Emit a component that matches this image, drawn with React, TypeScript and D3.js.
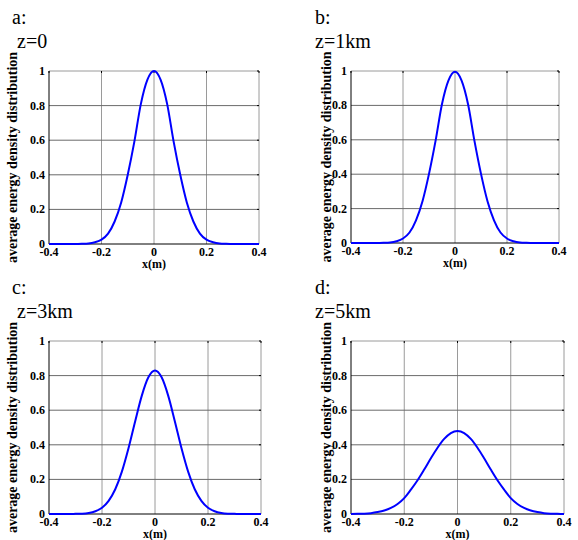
import React, { useEffect, useRef } from 'react';
import * as d3 from 'd3';

const xValues = [-0.4, -0.375, -0.35, -0.325, -0.3, -0.275, -0.25, -0.225, -0.2, -0.175, -0.15, -0.125, -0.1, -0.075, -0.05, -0.025,
  0, 0.025, 0.05, 0.075, 0.1, 0.125, 0.15, 0.175, 0.2, 0.225, 0.25, 0.275, 0.3, 0.325, 0.35, 0.375, 0.4];

const energyZ0 = [0, 0, 0, 0, 0, 0.001, 0.003, 0.01, 0.025, 0.06, 0.13, 0.24, 0.40, 0.59, 0.81, 0.95,
  1.0, 0.95, 0.81, 0.59, 0.40, 0.24, 0.13, 0.06, 0.025, 0.01, 0.003, 0.001, 0, 0, 0, 0, 0];
const energyZ1 = [0, 0, 0, 0, 0, 0.001, 0.003, 0.01, 0.026, 0.061, 0.132, 0.243, 0.402, 0.592, 0.808, 0.945,
  0.995, 0.945, 0.808, 0.592, 0.402, 0.243, 0.132, 0.061, 0.026, 0.01, 0.003, 0.001, 0, 0, 0, 0, 0];
const energyZ3 = [0, 0, 0, 0, 0.001, 0.002, 0.006, 0.016, 0.036, 0.076, 0.143, 0.245, 0.38, 0.535, 0.683, 0.79,
  0.83, 0.79, 0.683, 0.535, 0.38, 0.245, 0.143, 0.076, 0.036, 0.016, 0.006, 0.002, 0.001, 0, 0, 0, 0];
const energyZ5 = [0, 0.001, 0.002, 0.005, 0.011, 0.02, 0.035, 0.058, 0.092, 0.141, 0.195, 0.257, 0.322, 0.383, 0.434, 0.468,
  0.48, 0.468, 0.434, 0.383, 0.322, 0.257, 0.195, 0.141, 0.092, 0.058, 0.035, 0.02, 0.011, 0.005, 0.002, 0.001, 0];

const xTicks = [-0.4, -0.2, 0, 0.2, 0.4];
const xTickLabels = ['-0.4', '-0.2', '0', '0.2', '0.4'];
const yTicks = [0, 0.2, 0.4, 0.6, 0.8, 1];
const yTickLabels = ['0', '0.2', '0.4', '0.6', '0.8', '1'];

const panelLetters = ['a:', 'b:', 'c:', 'd:'];
const panelTitles = ['z=0', 'z=1km', 'z=3km', 'z=5km'];
const panelSeries = [energyZ0, energyZ1, energyZ3, energyZ5];

// plot boxes and text placement per panel
const boxes = [
  { l: 49, r: 259, t: 71, b: 244, letterX: 12, titleX: 17, ylabX: 17 },
  { l: 351, r: 559, t: 71, b: 243, letterX: 315, titleX: 315, ylabX: 331 },
  { l: 49, r: 261, t: 341, b: 514, letterX: 12, titleX: 17, ylabX: 17 },
  { l: 351, r: 564, t: 341, b: 514, letterX: 315, titleX: 315, ylabX: 331 },
];

const serif = 'Liberation Serif, DejaVu Serif, Times New Roman, serif';

const App = () => {
  const svgRef = useRef<SVGSVGElement>(null);

  useEffect(() => {
    const svg = d3.select(svgRef.current);
    svg.selectAll('*').remove();

    boxes.forEach((bx, i) => {
      const x = d3.scaleLinear().domain([-0.4, 0.4]).range([bx.l, bx.r]);
      const y = d3.scaleLinear().domain([0, 1]).range([bx.b, bx.t]);
      const g = svg.append('g').attr('font-family', serif);

      g.append('text').attr('x', bx.letterX).attr('y', bx.t - 47).text(panelLetters[i])
        .attr('font-size', 20).attr('fill', '#000');
      g.append('text').attr('x', bx.titleX).attr('y', bx.t - 23).text(panelTitles[i])
        .attr('font-size', 20).attr('fill', '#000');

      // grid
      g.selectAll('.vg').data(xTicks.slice(1)).join('line')
        .attr('x1', d => x(d)).attr('x2', d => x(d)).attr('y1', bx.t).attr('y2', bx.b)
        .attr('stroke', '#9a9a9a').attr('stroke-width', 1);
      g.selectAll('.hg').data(yTicks.slice(1)).join('line')
        .attr('x1', bx.l).attr('x2', bx.r).attr('y1', d => y(d)).attr('y2', d => y(d))
        .attr('stroke', d => (d === 1 ? '#9a9a9a' : '#6a6a6a')).attr('stroke-width', 1);

      // small tick marks on top and right edges
      g.selectAll('.tt').data(xTicks).join('line')
        .attr('x1', d => x(d)).attr('x2', d => x(d)).attr('y1', bx.t).attr('y2', bx.t + 2)
        .attr('stroke', '#000');
      g.selectAll('.rt').data(yTicks).join('line')
        .attr('x1', bx.r - 2).attr('x2', bx.r).attr('y1', d => y(d)).attr('y2', d => y(d))
        .attr('stroke', '#000');

      // axis lines
      g.append('line').attr('x1', bx.l).attr('x2', bx.l).attr('y1', bx.t).attr('y2', bx.b).attr('stroke', '#000');
      g.append('line').attr('x1', bx.l).attr('x2', bx.r).attr('y1', bx.b).attr('y2', bx.b).attr('stroke', '#000');

      const line = d3.line<number>().x((d, k) => x(xValues[k])).y(d => y(d)).curve(d3.curveMonotoneX);
      g.append('path').datum(panelSeries[i]).attr('fill', 'none').attr('stroke', '#0000ff')
        .attr('stroke-width', 2).attr('d', line);

      g.selectAll('.yl').data(yTicks).join('text')
        .attr('x', bx.l - 4).attr('y', d => y(d) + 4).attr('text-anchor', 'end')
        .text((d, k) => yTickLabels[k])
        .attr('font-size', 12).attr('font-weight', 'bold');
      g.selectAll('.xl').data(xTicks).join('text')
        .attr('x', d => x(d)).attr('y', bx.b + 12).attr('text-anchor', 'middle')
        .text((d, k) => xTickLabels[k])
        .attr('font-size', 12).attr('font-weight', 'bold');

      g.append('text').attr('x', (bx.l + bx.r) / 2).attr('y', bx.b + 24).attr('text-anchor', 'middle')
        .text('x(m)').attr('font-size', 12).attr('font-weight', 'bold');
      g.append('text').attr('transform', `translate(${bx.ylabX},${(bx.t + bx.b) / 2}) rotate(-90)`)
        .attr('text-anchor', 'middle').text('average energy density distribution')
        .attr('font-size', 14).attr('font-weight', 'bold');
    });
  }, []);

  return (
    <svg ref={svgRef} width={578} height={540}
      style={{ position: 'absolute', left: 0, top: 0, background: '#fff' }}></svg>
  );
};

export default App;
